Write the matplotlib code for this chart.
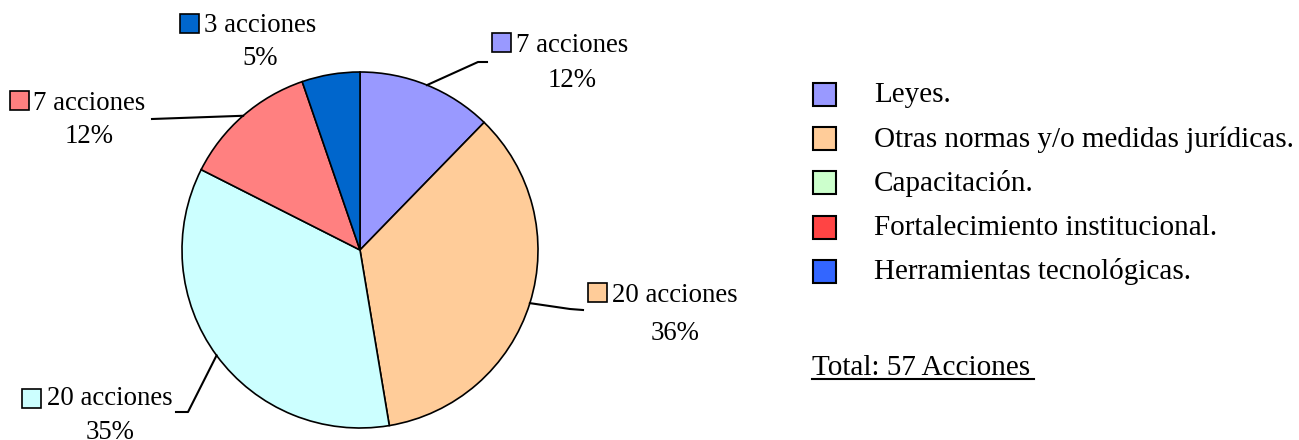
import matplotlib
matplotlib.use('Agg')
import matplotlib.pyplot as plt
from matplotlib.patches import Rectangle
import numpy as np

# Datos del gráfico
categorias = ['Leyes.', 'Otras normas y/o medidas jurídicas.', 'Capacitación.',
              'Fortalecimiento institucional.', 'Herramientas tecnológicas.']
acciones = [7, 20, 20, 7, 3]
porcentajes = ['12%', '36%', '35%', '12%', '5%']
total_texto = 'Total: 57 Acciones'

colores_pie = ['#9999FF', '#FFCC99', '#CCFFFF', '#FF8080', '#0066CC']
colores_leyenda = ['#9999FF', '#FFCC99', '#CCFFCC', '#FF4444', '#3366FF']

plt.rcParams['font.family'] = ['Liberation Serif', 'DejaVu Serif']

W, H = 1299, 440
fig = plt.figure(figsize=(W / 100, H / 100), dpi=100)

# Ejes del pastel (centro y radio en pixeles)
cx, cy, r = 360, 250, 178
ax = fig.add_axes([(cx - r) / W, (H - cy - r) / H, 2 * r / W, 2 * r / H])
wedges, _ = ax.pie(acciones, colors=colores_pie, startangle=90, counterclock=False,
                   radius=1, wedgeprops=dict(edgecolor='black', linewidth=1.2))
ax.set_xlim(-1, 1)
ax.set_ylim(-1, 1)

# Capa superior en coordenadas de pixel para etiquetas y leyenda
ov = fig.add_axes([0, 0, 1, 1])
ov.set_xlim(0, W)
ov.set_ylim(H, 0)
ov.axis('off')
ov.patch.set_visible(False)

# posicion de cada etiqueta: (centro marcador x, centro marcador y, centro texto x, base1, base2)
pos_etiquetas = [
    (502, 43, 572, 52, 87),
    (598, 293, 675, 302, 340),
    (32, 399, 110, 405, 439),
    (20, 101, 89, 110, 143),
    (190, 24, 260, 32, 65),
]
# recorrido de las lineas guia despues del borde del pastel
guias = [
    [(478, 62), (487, 62)],
    [(570, 309), (583, 310)],
    [(188, 412), (176, 412)],
    [(152, 119)],
    [],
]

fs_eti = 19.3
m = 19  # lado del marcador
for w, n, pct, col, (mx, my, tx, b1, b2), guia in zip(wedges, acciones, porcentajes,
                                                      colores_pie, pos_etiquetas, guias):
    ov.add_patch(Rectangle((mx - m / 2, my - m / 2), m, m, facecolor=col,
                           edgecolor='black', linewidth=1.2))
    ov.text(tx, b1, f'{n} acciones', fontsize=fs_eti, ha='center', va='baseline')
    ov.text(tx, b2, pct, fontsize=fs_eti, ha='center', va='baseline')
    if guia:
        ang = np.deg2rad((w.theta1 + w.theta2) / 2)
        p = ax.transData.transform((w.r * np.cos(ang), w.r * np.sin(ang)))
        x0, y0 = ov.transData.inverted().transform(p)
        xs = [x0] + [g[0] for g in guia]
        ys = [y0] + [g[1] for g in guia]
        ov.plot(xs, ys, color='black', linewidth=1.5)

# Leyenda
fs_ley = 21
ley_y0, ley_dy = 95, 44.2
for i, (cat, col) in enumerate(zip(categorias, colores_leyenda)):
    yy = ley_y0 + i * ley_dy
    ov.add_patch(Rectangle((813, yy - 12), 23, 23, facecolor=col,
                           edgecolor='black', linewidth=1.5))
    ov.text(874, yy + 7.5, cat, fontsize=fs_ley, ha='left', va='baseline')

# Total subrayado
ov.text(812, 375, total_texto, fontsize=fs_ley, ha='left', va='baseline')
ov.plot([812, 1034], [379, 379], color='black', linewidth=1.5)

fig.savefig('out.png', dpi=100)
